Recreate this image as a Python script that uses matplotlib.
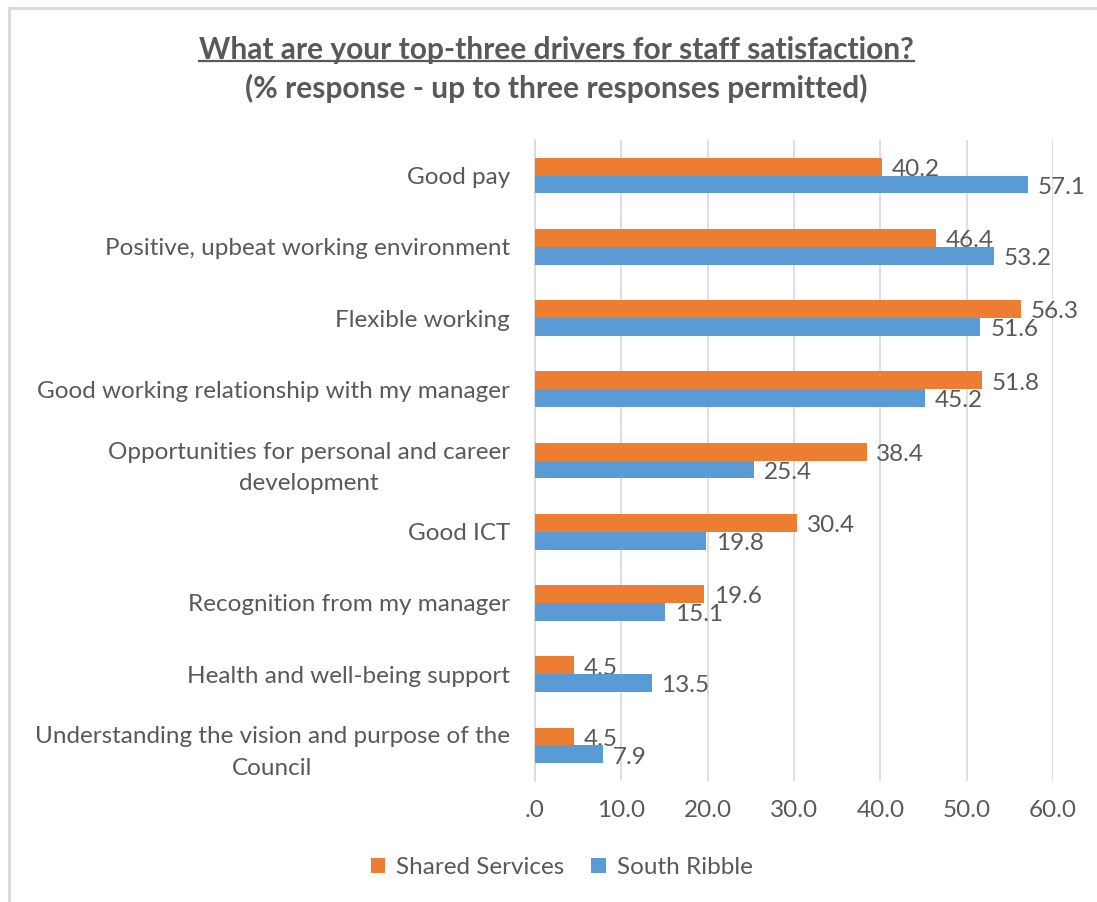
import matplotlib
matplotlib.use('Agg')
import matplotlib.pyplot as plt
from matplotlib.lines import Line2D
import numpy as np

plt.rcParams['font.family'] = ['Lato', 'DejaVu Sans']

drivers = [
    'Good pay',
    'Positive, upbeat working environment',
    'Flexible working',
    'Good working relationship with my manager',
    'Opportunities for personal and career\ndevelopment',
    'Good ICT',
    'Recognition from my manager',
    'Health and well-being support',
    'Understanding the vision and purpose of the\nCouncil',
]
shared_services = [40.2, 46.4, 56.3, 51.8, 38.4, 30.4, 19.6, 4.5, 4.5]
south_ribble = [57.1, 53.2, 51.6, 45.2, 25.4, 19.8, 15.1, 13.5, 7.9]
xticks = [0, 10, 20, 30, 40, 50, 60]
xtick_labels = ['.0', '10.0', '20.0', '30.0', '40.0', '50.0', '60.0']

ORANGE = '#ED7D31'
BLUE = '#5B9BD5'
GREY = '#595959'
GRID = '#D9D9D9'
FS = 17.5

fig = plt.figure(figsize=(10.97, 9.02), dpi=100)
ax = fig.add_axes([0.4877, 0.1341, 0.4722, 0.7107])

y = np.arange(len(drivers))
h = 0.25
b1 = ax.barh(y - h / 2, shared_services, height=h, color=ORANGE,
             label='Shared Services', zorder=3)
b2 = ax.barh(y + h / 2, south_ribble, height=h, color=BLUE,
             label='South Ribble', zorder=3)

# value labels; the orange ones sit behind the blue bars like the original
for bars, vals, z in [(b1, shared_services, 2.5), (b2, south_ribble, 4)]:
    for bar, v in zip(bars, vals):
        ax.annotate(f'{v:.1f}', (v, bar.get_y() + bar.get_height() / 2),
                    xytext=(7, -2), textcoords='offset points',
                    ha='left', va='center', fontsize=FS, color=GREY, zorder=z)

ax.set_ylim(len(drivers) - 0.5, -0.5)
ax.set_xlim(0, 60)
ax.set_yticks(y)
ax.set_yticklabels(drivers, fontsize=FS, color=GREY, multialignment='center',
                   linespacing=1.6)
ax.set_xticks(xticks)
ax.set_xticklabels(xtick_labels, fontsize=FS, color=GREY)
ax.tick_params(axis='both', length=0)
ax.tick_params(axis='y', pad=18)
ax.tick_params(axis='x', pad=14)

ax.grid(axis='x', color=GRID, linewidth=1.2, zorder=0.5)
ax.set_axisbelow(True)
for side in ['top', 'right', 'bottom']:
    ax.spines[side].set_visible(False)
ax.spines['left'].set_color(GRID)
ax.spines['left'].set_linewidth(1.2)

leg = fig.legend(handles=[b1, b2], loc='center', bbox_to_anchor=(0.512, 0.038),
                 ncol=2, frameon=False, fontsize=FS, handlelength=0.6,
                 handleheight=0.6, columnspacing=1.1, handletextpad=0.45)
for t in leg.get_texts():
    t.set_color(GREY)

t1 = fig.text(0.507, 0.945, 'What are your top-three drivers for staff satisfaction?',
              ha='center', va='center', fontsize=21.5, fontweight='bold', color=GREY)
fig.text(0.507, 0.902, '(% response - up to three responses permitted)',
         ha='center', va='center', fontsize=21.5, fontweight='bold', color=GREY)

# underline the first title line
fig.canvas.draw()
bb = t1.get_window_extent().transformed(fig.transFigure.inverted())
fig.add_artist(Line2D([bb.x0, bb.x1], [bb.y0 + 0.003, bb.y0 + 0.003],
                      transform=fig.transFigure, color=GREY, linewidth=1.6))

# chart area border (left and top edges)
fig.add_artist(Line2D([0.008, 0.008], [0.0, 0.991], transform=fig.transFigure,
                      color='#D9D9D9', linewidth=2))
fig.add_artist(Line2D([0.008, 1.0], [0.991, 0.991], transform=fig.transFigure,
                      color='#D9D9D9', linewidth=2))

fig.savefig('out.png', dpi=100, facecolor='white')
